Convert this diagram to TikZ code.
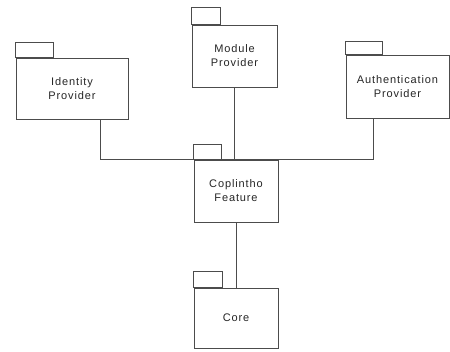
\documentclass[tikz,border=0pt]{standalone}
\usepackage{fontspec}
\newfontfamily\pkgfont[LetterSpace=8]{Liberation Sans}
\tikzset{
  pkg/.style={draw=black!70,line width=0.7pt,fill=white,align=center,
    font=\pkgfont\fontsize{11}{14}\selectfont,text=black!85},
  link/.style={draw=black!70,line width=0.7pt}
}
\begin{document}
\begin{tikzpicture}[x=1pt,y=-1pt]
    \useasboundingbox (0,0) rectangle (450,352);
    \def\tab#1#2#3{\draw[link] (#1.north west) rectangle ++(#2,-#3);}
    % packages
    \node[pkg,minimum width=112pt,minimum height=61pt] (ident) at (72,88.5) {Identity\\Provider};
    \node[pkg,minimum width=85pt,minimum height=62pt] (module) at (234.5,56) {Module\\Provider};
    \node[pkg,minimum width=103pt,minimum height=63pt] (auth) at (397.5,86.5) {Authentication\\Provider};
    \node[pkg,minimum width=84pt,minimum height=62pt] (feature) at (236,191) {Coplintho\\Feature};
    \node[pkg,minimum width=84pt,minimum height=60pt] (core) at (236,318) {Core};
    \tab{ident}{38}{15}
    \tab{module}{29}{17}
    \tab{auth}{37}{13}
    \tab{feature}{28}{15}
    \tab{core}{29}{16}
    % dependencies
    \draw[link] ([xshift=28pt]ident.south) |- (feature.north) -| ([xshift=-24.5pt]auth.south);
    \draw[link] (module.south) -- (module.south |- feature.north);
    \draw[link] (feature.south) -- (core.north);
\end{tikzpicture}
\end{document}
